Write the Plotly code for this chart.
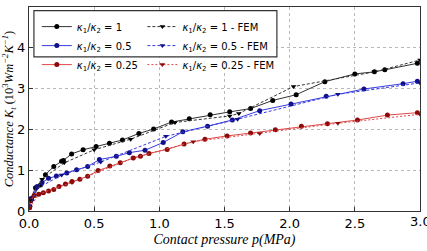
import plotly.graph_objects as go

# kappa1/kappa2 = 1
p1 = [0.005, 0.013, 0.05, 0.088, 0.126, 0.19, 0.25, 0.264, 0.327, 0.415, 0.515, 0.617, 0.717, 0.843, 0.956, 1.094, 1.23, 1.39, 1.54, 1.70, 1.87, 2.05, 2.27, 2.50, 2.65, 2.73, 2.98]
K1 = [0.12, 0.3, 0.57, 0.64, 0.89, 1.09, 1.22, 1.24, 1.40, 1.50, 1.58, 1.66, 1.74, 1.90, 2.01, 2.18, 2.26, 2.36, 2.43, 2.51, 2.71, 2.85, 3.17, 3.36, 3.41, 3.46, 3.62]
pf1 = [0.005, 0.02, 0.1, 0.27, 0.5, 0.78, 1.12, 1.54, 1.61, 2.03, 2.65, 3.0]
Kf1 = [0.1, 0.25, 0.78, 1.18, 1.5, 1.76, 2.17, 2.33, 2.39, 3.05, 3.41, 3.7]

# kappa1/kappa2 = 0.5
p2 = [0.005, 0.02, 0.063, 0.1, 0.15, 0.21, 0.29, 0.365, 0.45, 0.54, 0.67, 0.77, 0.89, 1.03, 1.18, 1.37, 1.56, 1.77, 2.01, 2.28, 2.57, 2.87, 2.98]
K2 = [0.1, 0.3, 0.6, 0.7, 0.8, 0.86, 0.93, 1.01, 1.09, 1.26, 1.34, 1.43, 1.49, 1.68, 1.94, 2.08, 2.23, 2.46, 2.62, 2.81, 2.99, 3.12, 3.18]
pf2 = [0.005, 0.06, 0.25, 0.55, 1.05, 1.6, 2.37, 3.0]
Kf2 = [0.1, 0.55, 0.88, 1.2, 1.83, 2.25, 2.86, 3.14]

# kappa1/kappa2 = 0.25
p3 = [0.005, 0.013, 0.04, 0.075, 0.11, 0.15, 0.19, 0.23, 0.28, 0.33, 0.39, 0.45, 0.53, 0.62, 0.70, 0.80, 0.855, 0.92, 1.06, 1.19, 1.35, 1.52, 1.70, 1.89, 2.09, 2.29, 2.52, 2.75, 2.98]
K3 = [0.08, 0.25, 0.38, 0.41, 0.45, 0.49, 0.53, 0.6, 0.66, 0.72, 0.78, 0.85, 0.99, 1.1, 1.18, 1.30, 1.34, 1.41, 1.51, 1.64, 1.76, 1.84, 1.91, 1.99, 2.08, 2.14, 2.23, 2.35, 2.41]
pf3 = [0.005, 0.08, 0.33, 0.8, 1.26, 1.77, 2.37, 3.0]
Kf3 = [0.08, 0.42, 0.7, 1.3, 1.70, 1.90, 2.15, 2.37]

xticks = [0.0, 0.5, 1.0, 1.5, 2.0, 2.5, 3.0]
xticklabels = ["0.0", "0.5", "1.0", "1.5", "2.0", "2.5", "3.0"]
yticks = [0, 1, 2, 3, 4, 5]

K = "<i>κ</i><sub>1</sub>/<i>κ</i><sub>2</sub>"
names = [K + " = 1", K + " = 0.5", K + " = 0.25"]

fig = go.Figure()
series = [(p1, K1, "#333333", "#000000"), (p2, K2, "#3a3ae0", "#10108a"), (p3, K3, "#e04848", "#8b0a0a")]
for (x, y, lc, mc), nm in zip(series, names):
    fig.add_trace(go.Scatter(x=x, y=y, mode="lines+markers", name=nm, legend="legend",
                             line=dict(color=lc, width=1),
                             marker=dict(color=mc, size=5, symbol="circle")))
fem = [(pf1, Kf1, "#333333", "#000000", "3px,2px"), (pf2, Kf2, "#3a3ae0", "#10108a", "3px,2px"), (pf3, Kf3, "#e04848", "#8b0a0a", "2px,2px")]
for (x, y, lc, mc, d), nm in zip(fem, names):
    fig.add_trace(go.Scatter(x=x, y=y, mode="lines+markers", name=nm + " - FEM", legend="legend2",
                             line=dict(color=lc, width=1, dash=d),
                             marker=dict(color=mc, size=5, symbol="triangle-down")))

fig.add_shape(type="rect", xref="paper", yref="paper", x0=0.0126, x1=0.634, y0=0.756, y1=0.982,
              line=dict(color="#333333", width=1.2), fillcolor="white", layer="above")

# last x tick label (drawn as annotation so it is not dropped at the edge)
fig.add_annotation(x=xticks[-1], xref="x", y=0, yref="paper", yanchor="top", yshift=-1,
                   text=xticklabels[-1], showarrow=False, font=dict(family="DejaVu Sans", size=13, color="black"))

legfont = dict(family="DejaVu Sans", size=10, color="black")
fig.update_layout(
    width=427, height=251,
    margin=dict(l=25, r=6, t=6, b=28),
    plot_bgcolor="white", paper_bgcolor="white",
    font=dict(family="DejaVu Sans", size=13, color="black"),
    legend=dict(x=0.02, y=0.975, xanchor="left", yanchor="top", bgcolor="rgba(0,0,0,0)",
                font=legfont, tracegroupgap=0, itemwidth=30),
    legend2=dict(x=0.29, y=0.975, xanchor="left", yanchor="top", bgcolor="rgba(0,0,0,0)",
                 font=legfont, tracegroupgap=0, itemwidth=30),
    xaxis=dict(range=[0, 3], tickvals=xticks[:-1], ticktext=xticklabels[:-1], showgrid=True,
               gridcolor="#b8b8b8", griddash="dot", gridwidth=1, zeroline=False,
               showline=True, linecolor="#333333", linewidth=1.2, mirror=True,
               ticks="inside", ticklen=4, tickcolor="#333333", tickfont=dict(size=13),
               title=dict(text="<i>Contact pressure p(MPa)</i>", standoff=4,
                          font=dict(family="Liberation Serif", size=14))),
    yaxis=dict(range=[0, 5], tickvals=yticks, showgrid=True,
               gridcolor="#b8b8b8", griddash="dot", gridwidth=1, zeroline=False,
               showline=True, linecolor="#333333", linewidth=1.2, mirror=True,
               ticks="inside", ticklen=4, tickcolor="#333333", tickfont=dict(size=13),
               title=dict(text="<i>Conductance K<sub>t</sub></i> (10<sup>3</sup><i>Wm<sup>−2</sup>K<sup>−1</sup></i>)",
                          standoff=2, font=dict(family="Liberation Serif", size=12.5))),
)
fig.write_html("out.html")
